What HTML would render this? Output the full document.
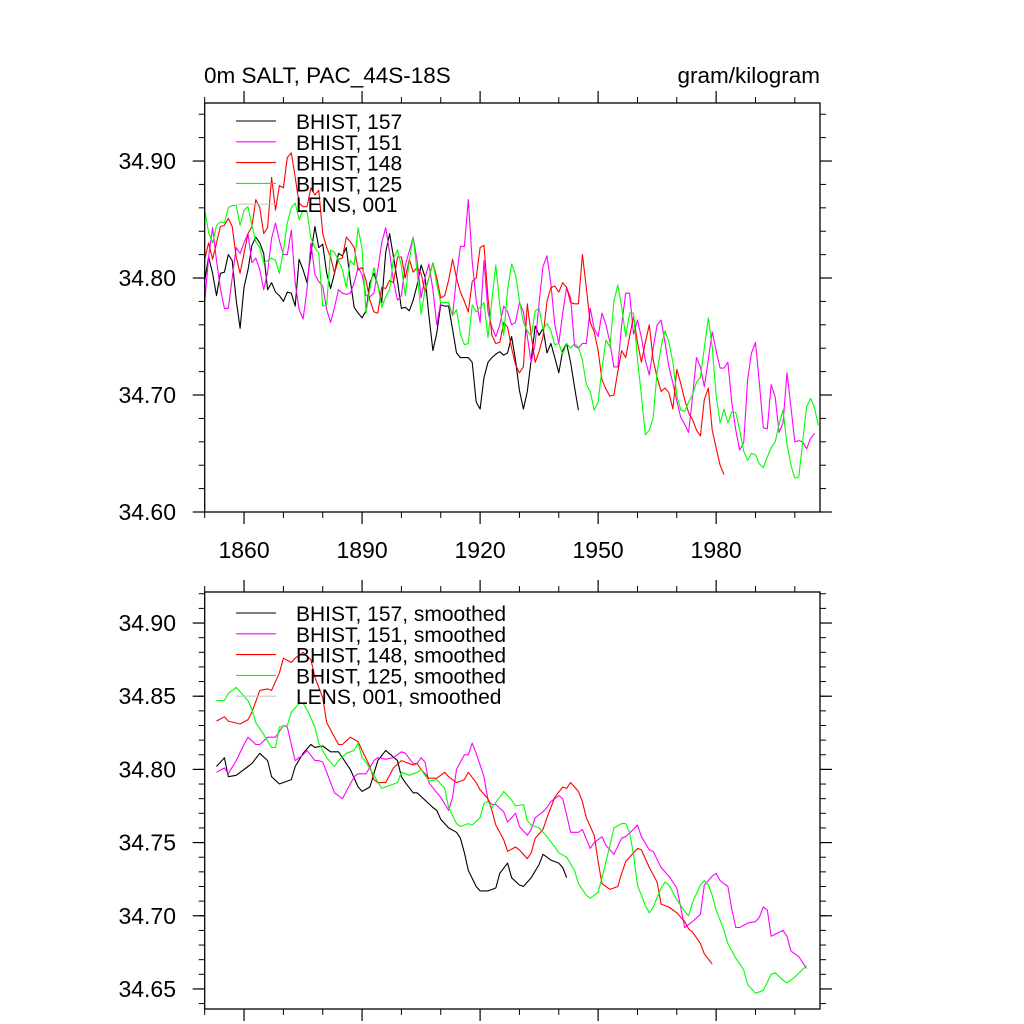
<!DOCTYPE html>
<html><head><meta charset="utf-8">
<style>
html,body{margin:0;padding:0;background:#fff;}
svg{display:block;font-family:"Liberation Sans",Arial,sans-serif;}
</style></head>
<body>
<svg id="chart" width="1024" height="1024" viewBox="0 0 1024 1024" xmlns="http://www.w3.org/2000/svg">
  <rect x="0" y="0" width="1024" height="1024" fill="#fff"/>
  <text x="204" y="83" font-size="22.5">0m SALT, PAC_44S-18S</text>
  <text x="820" y="83" font-size="22.5" text-anchor="end">gram/kilogram</text>
  <g id="top"></g>
  <g id="bot"></g>
</svg>
<script>
// ---------- TOP PANEL DATA (annual) ----------
const blackStart = 1850;
const blackVals = [34.798,34.818,34.804,34.785,34.804,34.805,34.820,34.815,34.781,34.757,34.792,34.807,34.828,34.835,34.830,34.821,34.790,34.796,34.788,34.785,34.780,34.788,34.787,34.776,34.816,34.807,34.796,34.821,34.844,34.826,34.829,34.804,34.791,34.804,34.821,34.819,34.826,34.798,34.775,34.770,34.766,34.772,34.796,34.804,34.794,34.779,34.822,34.838,34.818,34.797,34.774,34.775,34.772,34.781,34.794,34.811,34.801,34.768,34.738,34.753,34.777,34.776,34.776,34.756,34.736,34.732,34.732,34.732,34.728,34.694,34.688,34.715,34.728,34.732,34.735,34.737,34.734,34.736,34.750,34.730,34.704,34.688,34.703,34.730,34.759,34.751,34.757,34.736,34.744,34.732,34.719,34.738,34.744,34.728,34.707,34.687];
const magentaStart = 1850;
const magentaVals = [34.779,34.818,34.843,34.815,34.791,34.774,34.774,34.800,34.826,34.821,34.830,34.838,34.813,34.817,34.807,34.790,34.805,34.834,34.847,34.832,34.820,34.820,34.841,34.796,34.773,34.765,34.790,34.830,34.803,34.797,34.793,34.773,34.762,34.775,34.790,34.787,34.786,34.787,34.796,34.809,34.803,34.785,34.784,34.787,34.807,34.830,34.843,34.822,34.797,34.781,34.785,34.811,34.823,34.835,34.815,34.783,34.800,34.812,34.790,34.760,34.779,34.779,34.779,34.768,34.801,34.827,34.827,34.867,34.814,34.781,34.762,34.815,34.771,34.758,34.750,34.760,34.776,34.771,34.760,34.762,34.779,34.771,34.750,34.728,34.744,34.779,34.810,34.819,34.795,34.760,34.744,34.770,34.792,34.783,34.742,34.740,34.744,34.744,34.774,34.757,34.750,34.770,34.760,34.745,34.724,34.724,34.760,34.787,34.787,34.752,34.764,34.749,34.730,34.717,34.740,34.760,34.764,34.745,34.724,34.710,34.695,34.681,34.675,34.668,34.698,34.732,34.724,34.707,34.730,34.754,34.738,34.723,34.723,34.728,34.693,34.670,34.653,34.659,34.713,34.736,34.745,34.710,34.672,34.671,34.709,34.698,34.668,34.676,34.719,34.690,34.660,34.661,34.660,34.654,34.663,34.667];
const redStart = 1850;
const redVals = [34.816,34.830,34.816,34.830,34.844,34.845,34.851,34.844,34.818,34.804,34.821,34.838,34.844,34.867,34.860,34.838,34.843,34.886,34.858,34.879,34.877,34.903,34.907,34.886,34.864,34.861,34.861,34.877,34.871,34.875,34.838,34.826,34.818,34.804,34.816,34.817,34.835,34.831,34.826,34.807,34.809,34.798,34.781,34.771,34.770,34.792,34.791,34.798,34.796,34.818,34.818,34.800,34.816,34.805,34.809,34.804,34.788,34.800,34.813,34.800,34.783,34.785,34.798,34.816,34.800,34.788,34.780,34.771,34.797,34.800,34.826,34.828,34.783,34.751,34.744,34.745,34.762,34.758,34.740,34.726,34.719,34.724,34.778,34.751,34.728,34.737,34.750,34.780,34.792,34.793,34.788,34.796,34.792,34.779,34.778,34.778,34.820,34.792,34.762,34.754,34.738,34.713,34.705,34.699,34.700,34.720,34.738,34.732,34.750,34.767,34.745,34.728,34.745,34.760,34.730,34.715,34.703,34.706,34.702,34.688,34.722,34.710,34.696,34.685,34.679,34.670,34.665,34.696,34.706,34.670,34.655,34.640,34.632];
const greenStart = 1850;
const greenVals = [34.858,34.839,34.830,34.845,34.848,34.847,34.860,34.862,34.862,34.845,34.858,34.861,34.845,34.831,34.826,34.813,34.815,34.817,34.815,34.804,34.824,34.847,34.860,34.864,34.850,34.858,34.857,34.834,34.826,34.821,34.776,34.777,34.824,34.822,34.815,34.807,34.792,34.815,34.811,34.843,34.825,34.770,34.791,34.809,34.794,34.775,34.784,34.790,34.817,34.824,34.810,34.785,34.815,34.835,34.805,34.769,34.790,34.800,34.813,34.795,34.779,34.779,34.779,34.768,34.773,34.752,34.743,34.744,34.777,34.771,34.775,34.779,34.749,34.781,34.811,34.777,34.751,34.790,34.812,34.803,34.781,34.762,34.755,34.750,34.772,34.774,34.756,34.761,34.755,34.743,34.744,34.735,34.744,34.740,34.744,34.741,34.730,34.709,34.703,34.687,34.694,34.723,34.747,34.741,34.780,34.794,34.775,34.750,34.770,34.770,34.730,34.700,34.666,34.670,34.681,34.720,34.741,34.755,34.745,34.728,34.700,34.687,34.686,34.694,34.700,34.711,34.715,34.740,34.766,34.741,34.700,34.676,34.688,34.676,34.686,34.685,34.670,34.652,34.644,34.650,34.649,34.641,34.638,34.647,34.655,34.660,34.675,34.687,34.658,34.640,34.629,34.630,34.660,34.690,34.697,34.689,34.674];
const topYTicks = [34.60, 34.70, 34.80, 34.90];
const topYTickLabels = ["34.60","34.70","34.80","34.90"];
const xTickYears = [1860, 1890, 1920, 1950, 1980];
const xTickLabels = ["1860","1890","1920","1950","1980"];
const topLegendLabels = ["BHIST, 157","BHIST, 151","BHIST, 148","BHIST, 125","LENS, 001"];

// ---------- BOTTOM PANEL DATA (smoothed) ----------
const sBlackYears = [1853,1855,1856,1858,1861,1862,1864,1866,1867,1869,1872,1873,1875,1877,1878,1880,1882,1884,1885,1887,1889,1890,1892,1894,1896,1899,1900,1901,1903,1904,1906,1908,1909,1910,1912,1914,1915,1916,1917,1919,1920,1922,1924,1925,1927,1928,1930,1931,1932,1933,1935,1936,1937,1938,1940,1941,1942];
const sBlackVals = [34.802,34.808,34.795,34.796,34.802,34.804,34.811,34.806,34.795,34.790,34.793,34.802,34.811,34.817,34.815,34.816,34.812,34.812,34.808,34.800,34.788,34.785,34.788,34.806,34.813,34.806,34.795,34.791,34.784,34.784,34.779,34.774,34.772,34.766,34.760,34.757,34.753,34.743,34.731,34.720,34.717,34.717,34.719,34.729,34.736,34.726,34.721,34.720,34.723,34.726,34.735,34.742,34.740,34.738,34.736,34.733,34.726];
const sMagentaYears = [1853,1855,1856,1858,1860,1861,1863,1864,1866,1868,1870,1871,1872,1873,1875,1876,1878,1879,1880,1881,1883,1885,1886,1888,1889,1891,1893,1894,1896,1898,1900,1901,1903,1904,1905,1906,1907,1909,1910,1912,1913,1914,1916,1917,1918,1919,1921,1922,1923,1924,1926,1927,1928,1929,1930,1932,1933,1934,1936,1937,1938,1940,1941,1942,1943,1945,1946,1948,1949,1951,1952,1954,1956,1957,1959,1960,1961,1963,1964,1966,1968,1970,1971,1972,1974,1976,1977,1979,1980,1981,1983,1984,1985,1986,1988,1990,1991,1992,1993,1994,1997,1998,1999,2001,2003];
const sMagentaVals = [34.798,34.801,34.797,34.806,34.817,34.822,34.817,34.817,34.822,34.822,34.830,34.829,34.817,34.806,34.810,34.813,34.806,34.806,34.805,34.798,34.784,34.780,34.785,34.795,34.797,34.797,34.806,34.808,34.807,34.808,34.812,34.811,34.804,34.804,34.808,34.805,34.791,34.784,34.781,34.772,34.781,34.800,34.810,34.810,34.818,34.811,34.795,34.779,34.776,34.776,34.771,34.764,34.767,34.770,34.761,34.755,34.759,34.767,34.771,34.774,34.778,34.782,34.780,34.769,34.757,34.757,34.759,34.746,34.750,34.754,34.748,34.742,34.753,34.754,34.759,34.762,34.754,34.745,34.744,34.733,34.727,34.719,34.706,34.692,34.696,34.701,34.721,34.727,34.729,34.724,34.720,34.704,34.692,34.692,34.695,34.696,34.699,34.706,34.704,34.686,34.690,34.686,34.676,34.672,34.664];
const sRedYears = [1853,1855,1856,1859,1861,1862,1864,1866,1867,1869,1870,1872,1873,1875,1877,1878,1880,1881,1884,1885,1887,1889,1890,1892,1893,1894,1896,1898,1900,1901,1903,1904,1905,1907,1909,1911,1912,1914,1916,1917,1919,1920,1922,1923,1924,1926,1927,1929,1930,1932,1933,1934,1936,1937,1939,1941,1942,1943,1945,1946,1947,1949,1950,1951,1953,1955,1956,1957,1959,1960,1961,1963,1964,1965,1966,1968,1970,1972,1973,1974,1976,1977,1979];
const sRedVals = [34.833,34.836,34.833,34.831,34.834,34.839,34.854,34.855,34.854,34.866,34.876,34.873,34.876,34.880,34.875,34.863,34.849,34.832,34.817,34.817,34.822,34.819,34.813,34.802,34.793,34.791,34.791,34.801,34.806,34.805,34.803,34.804,34.800,34.794,34.794,34.798,34.795,34.791,34.793,34.798,34.791,34.786,34.780,34.772,34.762,34.752,34.744,34.747,34.745,34.739,34.743,34.753,34.759,34.767,34.781,34.788,34.787,34.791,34.785,34.778,34.767,34.755,34.737,34.722,34.718,34.720,34.729,34.737,34.743,34.746,34.745,34.733,34.728,34.723,34.708,34.706,34.702,34.696,34.691,34.689,34.681,34.674,34.667];
const sGreenYears = [1853,1855,1856,1858,1859,1861,1862,1863,1865,1867,1868,1869,1871,1872,1874,1875,1876,1878,1879,1881,1883,1884,1886,1888,1889,1890,1891,1893,1895,1897,1899,1900,1902,1904,1905,1907,1909,1911,1912,1914,1915,1917,1918,1920,1921,1922,1923,1925,1926,1928,1929,1931,1932,1933,1935,1937,1939,1940,1942,1944,1945,1947,1948,1950,1951,1953,1954,1956,1957,1958,1959,1960,1962,1963,1964,1966,1967,1968,1970,1972,1973,1974,1976,1977,1978,1979,1980,1982,1983,1985,1987,1988,1990,1992,1994,1995,1997,1998,2000,2003];
const sGreenVals = [34.847,34.847,34.852,34.856,34.853,34.847,34.841,34.832,34.824,34.815,34.815,34.829,34.830,34.839,34.845,34.845,34.841,34.829,34.818,34.808,34.802,34.806,34.811,34.813,34.818,34.808,34.805,34.796,34.787,34.789,34.791,34.798,34.796,34.798,34.800,34.792,34.793,34.787,34.774,34.763,34.761,34.763,34.762,34.767,34.777,34.778,34.774,34.781,34.785,34.779,34.775,34.776,34.765,34.762,34.760,34.754,34.747,34.743,34.740,34.731,34.722,34.714,34.712,34.716,34.726,34.748,34.760,34.763,34.763,34.757,34.742,34.721,34.707,34.702,34.706,34.719,34.723,34.721,34.711,34.703,34.700,34.709,34.721,34.724,34.721,34.714,34.704,34.690,34.681,34.671,34.663,34.653,34.647,34.649,34.660,34.661,34.656,34.654,34.658,34.666];
const botYTicks = [34.65, 34.70, 34.75, 34.80, 34.85, 34.90];
const botYTickLabels = ["34.65","34.70","34.75","34.80","34.85","34.90"];
const botLegendLabels = ["BHIST, 157, smoothed","BHIST, 151, smoothed","BHIST, 148, smoothed","BHIST, 125, smoothed","LENS, 001, smoothed"];

const legendColors = ["#000000","#ff00ff","#ff0000","#00ff00","#c8c8c8"];
const NS = "http://www.w3.org/2000/svg";
function mk(tag, attrs, parent){ const e=document.createElementNS(NS,tag); for(const k in attrs) e.setAttribute(k,attrs[k]); parent.appendChild(e); return e; }

const X0=204.7, X1=820, YR0=1850, YR1=2006.4;
function xScale(yr){ return X0 + (yr-YR0)*(X1-X0)/(YR1-YR0); }

function panel(g, cfg){
  const yScale = v => cfg.bottom - (v-cfg.vmin)*(cfg.bottom-cfg.top)/(cfg.vmax-cfg.vmin);
  for(let v=Math.ceil(cfg.vmin/cfg.minor-1e-6)*cfg.minor; v<=cfg.vmax+1e-9; v+=cfg.minor){
    const y=yScale(v);
    const t1=mk('line',{x1:X0-6,x2:X0,y1:y,y2:y,stroke:'#000','stroke-width':1},g);
    
    
    const t2=mk('line',{x1:X1,x2:X1+6,y1:y,y2:y,stroke:'#000','stroke-width':1},g);
    
    
  }
  cfg.yTicks.forEach((v,i)=>{
    const y=yScale(v);
    const a=mk('line',{x1:X0-12,x2:X0,y1:y,y2:y,stroke:'#000','stroke-width':1.2},g);
    
    
    const b=mk('line',{x1:X1,x2:X1+12,y1:y,y2:y,stroke:'#000','stroke-width':1.2},g);
    
    
    const t=mk('text',{x:176,y:y+8,'font-size':23,'text-anchor':'end'},g);
    
    
    t.textContent=cfg.yLabels[i];
  });
  for(let yr=1850; yr<=2000; yr+=10){
    const x=xScale(yr);
    const major = xTickYears.indexOf(yr)>=0;
    const L = major?12:6;
    const a=mk('line',{x1:x,x2:x,y1:cfg.bottom,y2:cfg.bottom+L,stroke:'#000','stroke-width':major?1.2:1},g);
    
    
    const b=mk('line',{x1:x,x2:x,y1:cfg.top-L,y2:cfg.top,stroke:'#000','stroke-width':major?1.2:1},g);
    
    
  }
  if(cfg.xLabels){
    xTickYears.forEach((yr,i)=>{
      const t=mk('text',{x:xScale(yr),y:cfg.bottom+46,'font-size':23,'text-anchor':'middle'},g);
      
      
      t.textContent=xTickLabels[i];
    });
  }
  cfg.series.forEach(s=>{
    let d='';
    s.vals.forEach((v,i)=>{
      const yr = s.years ? s.years[i] : s.start+i;
      d += (i?'L':'M') + xScale(yr).toFixed(1)+','+yScale(v).toFixed(1);
    });
    const p=mk('path',{d:d,fill:'none',stroke:s.color,'stroke-width':1.1,'stroke-linejoin':'round'},g);
    
    
  });
  cfg.legend.forEach((lab,i)=>{
    const y=cfg.legY + i*20.8;
    const l=mk('line',{x1:236,x2:276,y1:y,y2:y,stroke:legendColors[i],'stroke-width':1.1},g);
    
    
    const t=mk('text',{x:296,y:y+8,'font-size':21},g);
    
    
    t.textContent=lab;
  });
  const f=mk('rect',{x:X0,y:cfg.top,width:X1-X0,height:cfg.bottom-cfg.top,fill:'none',stroke:'#000','stroke-width':1.3},g);
  
  
}

panel(document.getElementById('top'),{
  top:103, bottom:512, vmin:34.60, vmax:34.9496, minor:0.02,
  yTicks:topYTicks, yLabels:topYTickLabels, xLabels:true, legY:121, legend:topLegendLabels,
  series:[
    {name:'series-bhist-157',color:'#000000',start:blackStart,vals:blackVals},
    {name:'series-bhist-151',color:'#ff00ff',start:magentaStart,vals:magentaVals},
    {name:'series-bhist-148',color:'#ff0000',start:redStart,vals:redVals},
    {name:'series-bhist-125',color:'#00ff00',start:greenStart,vals:greenVals}
  ]
});
panel(document.getElementById('bot'),{
  top:592, bottom:1009, vmin:34.6363, vmax:34.9212, minor:0.01,
  yTicks:botYTicks, yLabels:botYTickLabels, xLabels:false, legY:613, legend:botLegendLabels,
  series:[
    {name:'smoothed-bhist-157',color:'#000000',years:sBlackYears,vals:sBlackVals},
    {name:'smoothed-bhist-151',color:'#ff00ff',years:sMagentaYears,vals:sMagentaVals},
    {name:'smoothed-bhist-148',color:'#ff0000',years:sRedYears,vals:sRedVals},
    {name:'smoothed-bhist-125',color:'#00ff00',years:sGreenYears,vals:sGreenVals}
  ]
});
</script>
</body></html>
